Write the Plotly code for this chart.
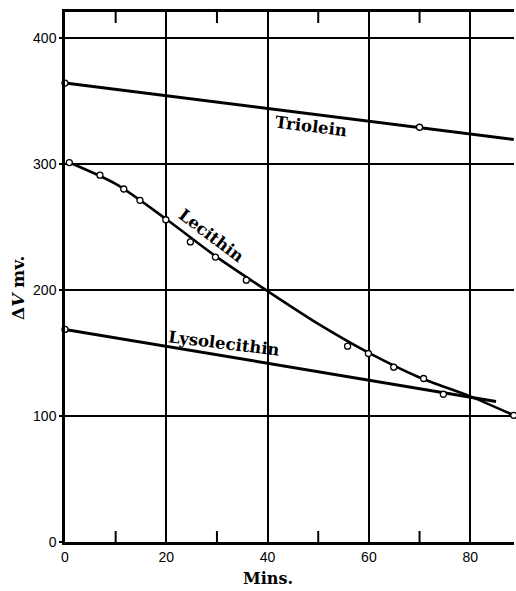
import plotly.graph_objects as go

# Data
triolein_x = [0, 70]
triolein_y = [364, 329]
triolein_line_x = [0, 88.6]
triolein_line_y = [364, 319.3]

lecithin_pts_x = [0.85, 6.9, 11.6, 14.8, 19.9, 24.75, 29.7, 35.8, 55.8, 59.9, 64.9, 70.8, 74.7, 88.6]
lecithin_pts_y = [301, 291, 280, 271, 255.6, 238, 226, 207.7, 155.3, 149.5, 138.7, 129.7, 117.2, 100.5]
lecithin_curve_x = [0.85, 10, 20, 30, 40, 50, 60, 70, 80, 88.6]
lecithin_curve_y = [301, 284, 256, 226, 199, 173, 150, 130.5, 115.5, 100.5]

lyso_x = [0]
lyso_y = [168.6]
lyso_line_x = [0, 85.1]
lyso_line_y = [168.6, 111.5]

x_ticks = [0, 20, 40, 60, 80]
y_ticks = [0, 100, 200, 300, 400]
x_minor = [10, 30, 50, 70]

fig = go.Figure()
fig.add_trace(go.Scatter(x=triolein_line_x, y=triolein_line_y, mode="lines",
                         line=dict(color="black", width=3), showlegend=False))
fig.add_trace(go.Scatter(x=lyso_line_x, y=lyso_line_y, mode="lines",
                         line=dict(color="black", width=3), showlegend=False))
fig.add_trace(go.Scatter(x=lecithin_curve_x, y=lecithin_curve_y, mode="lines",
                         line=dict(color="black", width=2.6, shape="spline", smoothing=0.8),
                         showlegend=False))
marker = dict(symbol="circle", size=6, color="white", line=dict(color="black", width=1.3))
fig.add_trace(go.Scatter(x=triolein_x, y=triolein_y, mode="markers", marker=marker,
                         showlegend=False, cliponaxis=False))
fig.add_trace(go.Scatter(x=lecithin_pts_x, y=lecithin_pts_y, mode="markers", marker=marker,
                         showlegend=False, cliponaxis=False))
fig.add_trace(go.Scatter(x=lyso_x, y=lyso_y, mode="markers", marker=marker,
                         showlegend=False, cliponaxis=False))

# minor inward ticks at bottom and top
tick_frac = 11 / 530
for v in x_minor:
    fig.add_shape(type="line", xref="x", yref="paper", x0=v, x1=v, y0=0, y1=tick_frac,
                  line=dict(color="black", width=2))
    fig.add_shape(type="line", xref="x", yref="paper", x0=v, x1=v, y0=1 - tick_frac, y1=1,
                  line=dict(color="black", width=2))

lab_font = dict(family="DejaVu Serif", size=16.5, color="black")
fig.add_annotation(x=48.6, y=329.5, text="<b>Triolein</b>", showarrow=False,
                   textangle=7, font=lab_font)
fig.add_annotation(x=28.8, y=243, text="<b>Lecithin</b>", showarrow=False,
                   textangle=37, font=lab_font)
fig.add_annotation(x=31.4, y=157.5, text="<b>Lysolecithin</b>", showarrow=False,
                   textangle=7, font=lab_font)
fig.add_annotation(x=-0.106, xref="paper", y=0.48, yref="paper", xanchor="center",
                   yanchor="middle",
                   text="<b>Δ<i>V</i> mv.</b>", showarrow=False, textangle=-90,
                   font=dict(family="DejaVu Serif", size=17, color="black"))
fig.add_annotation(x=40, xref="x", y=-0.068, yref="paper", xanchor="center",
                   yanchor="middle", text="<b>Mins.</b>", showarrow=False,
                   font=dict(family="DejaVu Serif", size=16, color="black"))

fig.update_layout(
    width=516, height=591,
    margin=dict(l=65, r=2, t=12, b=49),
    paper_bgcolor="white", plot_bgcolor="white",
    font=dict(family="Liberation Sans", size=14, color="black"),
    xaxis=dict(range=[0, 88.65], tickvals=x_ticks, ticktext=[str(v) for v in x_ticks],
               showgrid=True, gridcolor="black", gridwidth=2,
               showline=True, linecolor="black", linewidth=2.5, mirror=True,
               ticks="", zeroline=False),
    yaxis=dict(range=[0, 420.4], tickvals=y_ticks, ticktext=[str(v) for v in y_ticks],
               showgrid=True, gridcolor="black", gridwidth=2,
               showline=True, linecolor="black", linewidth=2.5, mirror=False,
               ticks="outside", ticklen=3, tickwidth=2, tickcolor="black",
               zeroline=False),
)

fig.write_html("out.html", config={"displayModeBar": False})
